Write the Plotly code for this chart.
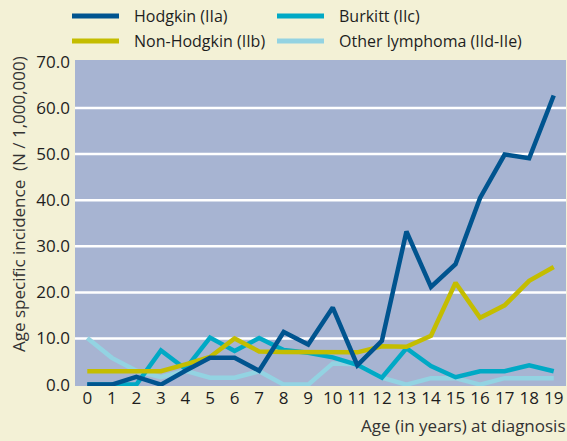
import plotly.graph_objects as go

ages = list(range(20))
tick_labels = [str(a) for a in ages]

hodgkin = [0.0, 0.0, 1.7, 0.0, 3.0, 5.8, 5.8, 3.0, 11.4, 8.7, 16.7, 4.2, 9.5, 33.2, 21.2, 26.1, 40.5, 49.9, 49.1, 62.7]
non_hodgkin = [2.9, 2.9, 2.9, 2.9, 4.4, 6.0, 10.0, 7.2, 7.1, 7.1, 7.0, 7.0, 8.3, 8.2, 10.6, 22.1, 14.5, 17.2, 22.5, 25.5]
burkitt = [0.0, 0.0, 0.0, 7.4, 3.4, 10.2, 7.3, 10.1, 7.5, 6.9, 5.9, 4.3, 1.5, 7.9, 4.0, 1.6, 2.9, 2.9, 4.2, 2.9]
other = [10.1, 5.8, 3.0, 1.6, 3.0, 1.5, 1.5, 2.9, 0.0, 0.0, 4.6, 4.4, 1.5, 0.0, 1.4, 1.4, 0.0, 1.4, 1.4, 1.4]

series_names = ["Hodgkin (IIa)", "Burkitt (IIc)", "Non-Hodgkin (IIb)", "Other lymphoma (IId-IIe)"]
series_values = [hodgkin, burkitt, non_hodgkin, other]
series_colors = ["#00548f", "#00a9c5", "#c4bd00", "#93d3e2"]
draw_order = [3, 1, 2, 0]

y_ticks = [0, 10, 20, 30, 40, 50, 60, 70]
grid_vals = [10, 20, 30, 40, 50, 60]

FONT = "Open Sans"
TXT = "#1e1e1e"
PAPER = "#f3f1d6"

fig = go.Figure()
for i in draw_order:
    fig.add_trace(go.Scatter(
        x=ages, y=series_values[i], mode="lines", name=series_names[i],
        line=dict(color=series_colors[i], width=4.5), showlegend=False,
        cliponaxis=False, hoverinfo="skip",
    ))

shapes = []
for g in grid_vals:
    shapes.append(dict(type="line", xref="paper", yref="y", x0=0, x1=1, y0=g, y1=g,
                       line=dict(color="white", width=2.5), layer="below"))

# custom legend (2 columns x 2 rows)
leg_pos = [(72, 16), (277, 16), (72, 41), (277, 41)]
annotations = []
W, H = 567, 441
L, R, T, B = 75, 1, 60, 55
pw, ph = W - L - R, H - T - B
def px2x(px):
    return (px - L) / pw
def py2y(py):
    return (H - B - py) / ph
for (lx, ly), name, col in zip(leg_pos, series_names, series_colors):
    shapes.append(dict(type="line", xref="paper", yref="paper",
                       x0=px2x(lx), x1=px2x(lx + 47), y0=py2y(ly), y1=py2y(ly),
                       line=dict(color=col, width=5)))
    annotations.append(dict(text=name, xref="paper", yref="paper", x=px2x(lx + 60), y=py2y(ly),
                            xanchor="left", yanchor="middle", showarrow=False,
                            font=dict(family=FONT, size=16, color=TXT)))

annotations.append(dict(text="Age (in years) at diagnosis", xref="paper", yref="paper",
                        x=px2x(568), y=py2y(425), xanchor="right", yanchor="middle",
                        showarrow=False, font=dict(family=FONT, size=17, color="#333333")))
annotations.append(dict(text="Age specific incidence  (N / 1,000,000)", xref="paper", yref="paper",
                        x=px2x(18), y=py2y(204), xanchor="center", yanchor="middle", textangle=-90,
                        showarrow=False, font=dict(family=FONT, size=17, color="#333333")))

fig.update_layout(
    width=W, height=H,
    margin=dict(l=L, r=R, t=T, b=B),
    paper_bgcolor=PAPER,
    plot_bgcolor="#a7b4d2",
    showlegend=False,
    hovermode=False,
    shapes=shapes,
    annotations=annotations,
    xaxis=dict(range=[-0.5, 19.5], tickvals=ages, ticktext=tick_labels, showgrid=False,
               zeroline=False, showline=False, ticks="",
               tickfont=dict(family=FONT, size=17, color=TXT)),
    yaxis=dict(range=[-0.3, 70.4], tickvals=y_ticks, tickformat=".1f", showgrid=False,
               zeroline=False, showline=False, ticks="", ticklabelstandoff=4,
               tickfont=dict(family=FONT, size=17, color=TXT)),
)

fig.write_html(
    "out.html",
    config={"displayModeBar": False, "staticPlot": True},
    post_script="document.body.style.margin='0';document.body.style.overflow='hidden';"
                "document.body.style.background='" + PAPER + "';",
)
